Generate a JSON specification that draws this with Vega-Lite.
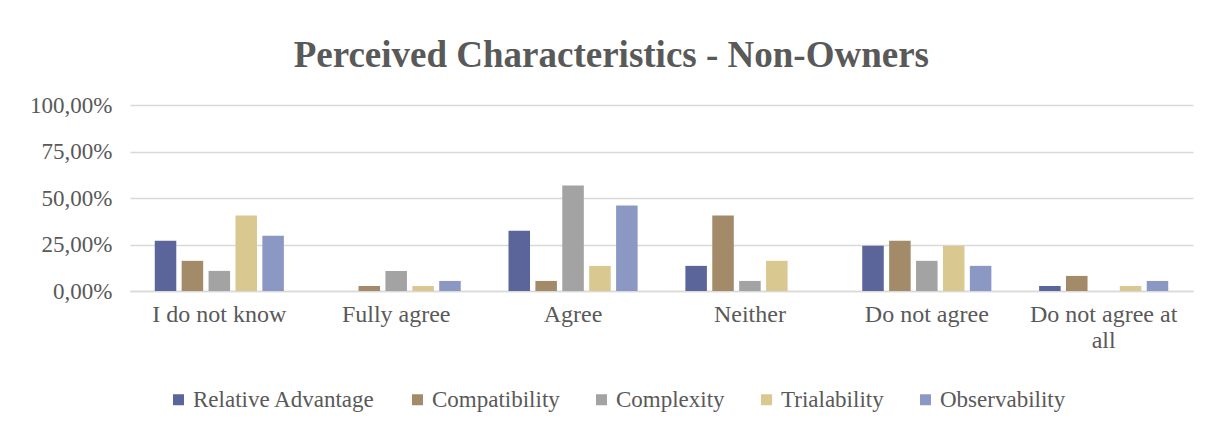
{
  "$schema": "https://vega.github.io/schema/vega-lite/v6.json",
  "width": 1063,
  "height": 186,
  "autosize": {"type": "none"},
  "padding": {"left": 130, "top": 105, "right": 27, "bottom": 139},
  "background": "white",
  "title": {
    "text": "Perceived Characteristics - Non-Owners",
    "font": "Liberation Serif",
    "fontSize": 37,
    "fontWeight": "bold",
    "color": "#595959",
    "anchor": "middle",
    "frame": "bounds",
    "offset": 19
  },
  "data": {
    "values": [
      {"answer": "I do not know", "characteristic": "Relative Advantage", "share": 27.03},
      {"answer": "I do not know", "characteristic": "Compatibility", "share": 16.22},
      {"answer": "I do not know", "characteristic": "Complexity", "share": 10.81},
      {"answer": "I do not know", "characteristic": "Trialability", "share": 40.54},
      {"answer": "I do not know", "characteristic": "Observability", "share": 29.73},
      {"answer": "Fully agree", "characteristic": "Relative Advantage", "share": 0},
      {"answer": "Fully agree", "characteristic": "Compatibility", "share": 2.70},
      {"answer": "Fully agree", "characteristic": "Complexity", "share": 10.81},
      {"answer": "Fully agree", "characteristic": "Trialability", "share": 2.70},
      {"answer": "Fully agree", "characteristic": "Observability", "share": 5.41},
      {"answer": "Agree", "characteristic": "Relative Advantage", "share": 32.43},
      {"answer": "Agree", "characteristic": "Compatibility", "share": 5.41},
      {"answer": "Agree", "characteristic": "Complexity", "share": 56.76},
      {"answer": "Agree", "characteristic": "Trialability", "share": 13.51},
      {"answer": "Agree", "characteristic": "Observability", "share": 45.95},
      {"answer": "Neither", "characteristic": "Relative Advantage", "share": 13.51},
      {"answer": "Neither", "characteristic": "Compatibility", "share": 40.54},
      {"answer": "Neither", "characteristic": "Complexity", "share": 5.41},
      {"answer": "Neither", "characteristic": "Trialability", "share": 16.22},
      {"answer": "Neither", "characteristic": "Observability", "share": 0},
      {"answer": "Do not agree", "characteristic": "Relative Advantage", "share": 24.32},
      {"answer": "Do not agree", "characteristic": "Compatibility", "share": 27.03},
      {"answer": "Do not agree", "characteristic": "Complexity", "share": 16.22},
      {"answer": "Do not agree", "characteristic": "Trialability", "share": 24.32},
      {"answer": "Do not agree", "characteristic": "Observability", "share": 13.51},
      {"answer": "Do not agree at all", "characteristic": "Relative Advantage", "share": 2.70},
      {"answer": "Do not agree at all", "characteristic": "Compatibility", "share": 8.11},
      {"answer": "Do not agree at all", "characteristic": "Complexity", "share": 0},
      {"answer": "Do not agree at all", "characteristic": "Trialability", "share": 2.70},
      {"answer": "Do not agree at all", "characteristic": "Observability", "share": 5.41}
    ]
  },
  "mark": {"type": "bar"},
  "encoding": {
    "x": {
      "field": "answer",
      "type": "nominal",
      "sort": null,
      "title": null,
      "scale": {"paddingInner": 0.27, "paddingOuter": 0.14},
      "axis": {
        "labelAngle": 0,
        "labelFont": "Liberation Serif",
        "labelFontSize": 24,
        "labelColor": "#595959",
        "labelPadding": 11,
        "labelLimit": 300,
        "labelLineHeight": 26,
        "labelExpr": "datum.value == 'Do not agree at all' ? ['Do not agree at', 'all'] : datum.value",
        "ticks": false,
        "domainColor": "#d9d9d9",
        "domainWidth": 1.5
      }
    },
    "xOffset": {
      "field": "characteristic",
      "type": "nominal",
      "sort": ["Relative Advantage", "Compatibility", "Complexity", "Trialability", "Observability"],
      "scale": {"paddingInner": 0.2, "paddingOuter": 0}
    },
    "y": {
      "field": "share",
      "type": "quantitative",
      "title": null,
      "scale": {"domain": [0, 100], "nice": false},
      "axis": {
        "values": [0, 25, 50, 75, 100],
        "labelExpr": "replace(format(datum.value, '.2f'), '.', ',') + '%'",
        "labelFont": "Liberation Serif",
        "labelFontSize": 23,
        "labelColor": "#595959",
        "labelPadding": 18,
        "ticks": false,
        "domain": false,
        "gridColor": "#d9d9d9",
        "gridWidth": 1.5
      }
    },
    "color": {
      "field": "characteristic",
      "type": "nominal",
      "title": null,
      "scale": {
        "domain": ["Relative Advantage", "Compatibility", "Complexity", "Trialability", "Observability"],
        "range": ["#5b6599", "#a38a68", "#a3a3a3", "#d9c88f", "#8c98c4"]
      },
      "legend": {
        "orient": "none",
        "legendX": 37,
        "legendY": 283,
        "direction": "horizontal",
        "columns": 5,
        "columnPadding": 30,
        "symbolType": "square",
        "symbolSize": 121,
        "symbolStrokeWidth": 0,
        "labelOffset": 3,
        "labelFont": "Liberation Serif",
        "labelFontSize": 23,
        "labelColor": "#595959",
        "labelLimit": 400
      }
    }
  },
  "config": {
    "view": {"stroke": null}
  }
}
